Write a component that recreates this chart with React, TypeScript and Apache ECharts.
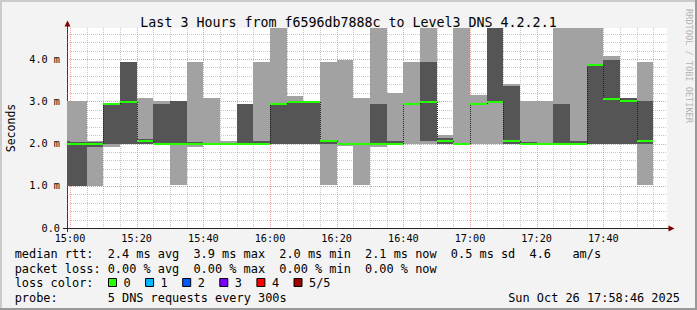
import React, { useEffect, useRef } from "react";
import * as echarts from "echarts";

// ---- data ----
const times = [
  "14:55", "15:00", "15:05", "15:10", "15:15", "15:20", "15:25", "15:30", "15:35", "15:40", "15:45", "15:50",
  "15:55", "16:00", "16:05", "16:10", "16:15", "16:20", "16:25", "16:30", "16:35", "16:40", "16:45", "16:50",
  "16:55", "17:00", "17:05", "17:10", "17:15", "17:20", "17:25", "17:30", "17:35", "17:40", "17:45", "17:50",
];
// sorted ping round-trip times (ms) per 5-minute step
const ping1 = [1.0, 1.0, 1.0, 1.91, 2.0, 2.0, 2.0, 1.02, 1.92, 2.0, 2.0, 2.0, 2.0, 2.0, 2.0, 2.0, 1.02, 1.93, 1.02, 1.92, 2.0, 2.0, 2.0, 2.0, 2.0, 2.0, 2.0, 2.0, 2.0, 2.0, 2.0, 2.0, 2.0, 2.0, 2.0, 1.02];
const ping2 = [1.0, 1.0, 1.92, 1.98, 2.0, 2.0, 2.0, 1.98, 1.97, 2.0, 2.0, 2.0, 2.0, 2.0, 2.0, 2.0, 2.0, 1.98, 1.98, 1.97, 2.0, 2.93, 2.05, 2.0, 2.0, 2.93, 2.96, 2.0, 2.0, 2.0, 2.0, 2.0, 2.0, 2.0, 2.0, 2.0];
const ping3 = [2.0, 2.0, 2.0, 2.94, 2.99, 2.05, 2.0, 2.0, 2.0, 2.0, 2.0, 2.0, 2.0, 2.93, 2.99, 2.99, 2.07, 2.0, 2.0, 2.0, 2.0, 2.93, 2.99, 2.06, 2.0, 2.93, 2.99, 2.06, 2.0, 2.0, 2.0, 2.0, 3.87, 3.06, 3.0, 2.06];
const ping4 = [2.05, 2.04, 2.04, 2.95, 3.93, 2.1, 2.93, 3.0, 2.04, 2.01, 2.01, 2.93, 2.05, 2.94, 3.0, 3.0, 2.09, 2.01, 2.01, 2.93, 2.05, 2.94, 3.93, 2.13, 2.0, 2.95, 5.0, 3.35, 2.03, 2.0, 2.93, 2.05, 3.88, 3.98, 3.07, 3.0];
const ping5 = [3.0, 3.0, 2.06, 2.95, 3.93, 3.07, 3.0, 3.0, 3.93, 3.07, 2.05, 2.93, 3.93, 5.0, 3.12, 3.0, 3.93, 3.98, 3.07, 5.0, 3.2, 3.93, 5.0, 2.19, 5.0, 3.14, 5.0, 3.42, 3.0, 3.0, 5.0, 5.0, 5.0, 4.07, 3.07, 3.93];

const xTickLabels = ["15:00", "15:20", "15:40", "16:00", "16:20", "16:40", "17:00", "17:20", "17:40"];
const yTickValues = [0, 1, 2, 3, 4];

const rttLine = [["median rtt:", 0], ["2.4 ms avg", 13], ["3.9 ms max", 25], ["2.0 ms min", 37], ["2.1 ms now", 49], ["0.5 ms sd", 61], ["4.6", 72], ["am/s", 78]] as [string, number][];
const lossLine = [["packet loss:", 0], ["0.00 % avg", 13], ["0.00 % max", 25], ["0.00 % min", 37], ["0.00 % now", 49]] as [string, number][];
const probeLine = [["probe:", 0], ["5 DNS requests every 300s", 13]] as [string, number][];
const lossLabels = ["0", "1", "2", "3", "4", "5/5"];
const lossColors = ["#26ff00", "#00b8ff", "#0059ff", "#7e00ff", "#ff0000", "#a10000"];
const dateText = "Sun Oct 26 17:58:46 2025";
const titleText = "Last 3 Hours from f6596db7888c to Level3 DNS 4.2.2.1";

// ---- helpers ----
const toMin = (t: string) => {
  const [h, m] = t.split(":").map(Number);
  return h * 60 + m - 15 * 60;
};
const fmtMin = (v: number) => {
  const tot = Math.round(v) + 15 * 60;
  const h = Math.floor(tot / 60);
  const m = tot % 60;
  return `${h}:${m < 10 ? "0" : ""}${m}`;
};

const LIGHT = "#a2a2a2";
const DARK = "#555555";
const MONO = "DejaVu Sans Mono";
const X_MIN = -0.9;
const X_MAX = 179.1;
const Y_MAX = 4.734;

export default function App() {
  const ref = useRef<HTMLDivElement>(null);
  useEffect(() => {
    const chart = echarts.init(ref.current!, null, { renderer: "svg" });

    const smokeData = times.map((t, i) => {
      const s = toMin(t);
      return [s, s + 5, ping1[i], ping2[i], ping3[i], ping4[i], ping5[i], i > 0 ? ping3[i - 1] : ping3[i]];
    });

    const gridData: number[][] = [];
    for (let m = 0; m <= 175; m += 5) gridData.push([m, 0.5, m % 20 === 0 ? 1 : 0]);
    for (let k = 1; k <= 23; k++) {
      const v = k / 5;
      gridData.push([0, v, k % 5 === 0 ? 3 : 2]);
    }

    const smokeRender = (params: any, api: any) => {
      const x0 = Math.round(api.coord([api.value(0), 0])[0]);
      const x1 = Math.round(api.coord([api.value(1), 0])[0]);
      const p = [2, 3, 4, 5, 6].map((d) => api.value(d));
      const y = (v: number) => Math.round(api.coord([api.value(0), v])[1]);
      const children: any[] = [];
      const seg = (a: number, b: number, c: string) => {
        const ya = y(a);
        const yb = y(b);
        if (ya === yb) return;
        children.push({ type: "rect", shape: { x: x0, y: Math.min(ya, yb), width: x1 - x0, height: Math.abs(ya - yb) }, style: { fill: c } });
      };
      seg(p[0], p[1], LIGHT);
      seg(p[1], p[2], DARK);
      seg(p[2], p[3], DARK);
      seg(p[3], p[4], LIGHT);
      return { type: "group", children };
    };

    const medianRender = (params: any, api: any) => {
      const x0 = Math.round(api.coord([api.value(0), 0])[0]);
      const x1 = Math.round(api.coord([api.value(1), 0])[0]);
      const ym = Math.round(api.coord([api.value(0), api.value(4)])[1]);
      const yp = Math.round(api.coord([api.value(0), api.value(7)])[1]);
      const children: any[] = [];
      if (yp !== ym) {
        children.push({ type: "line", shape: { x1: x0 + 0.5, y1: yp, x2: x0 + 0.5, y2: ym }, style: { stroke: "#202020", lineWidth: 1, lineDash: [1, 1] } });
      }
      children.push({ type: "rect", shape: { x: x0, y: ym - 1, width: x1 - x0, height: 2 }, style: { fill: lossColors[0] } });
      return { type: "group", children };
    };

    const gridRender = (params: any, api: any) => {
      const cs = params.coordSys;
      const kind = api.value(2);
      const major = kind === 1 || kind === 3;
      const style = { stroke: major ? "rgba(240,32,32,0.45)" : "rgba(143,143,143,0.5)", lineWidth: 1, lineDash: [1, 1] };
      if (kind < 2) {
        const px = Math.round(api.coord([api.value(0), 0])[0]) + 0.5;
        return { type: "line", shape: { x1: px, y1: cs.y, x2: px, y2: cs.y + cs.height }, style };
      }
      const py = Math.round(api.coord([0, api.value(1)])[1]) + 0.5;
      return { type: "line", shape: { x1: cs.x, y1: py, x2: cs.x + cs.width, y2: py }, style };
    };

    const CW = 7.15;
    const LX = 14.7;
    const textEl = (text: string, x: number, y: number, extra: any = {}) => ({
      type: "text",
      x,
      y,
      style: { text, fill: "#000", font: `11.9px '${MONO}'`, verticalAlign: "middle", align: "left", ...extra },
    });
    const graphics: any[] = [];
    rttLine.forEach(([t, c]) => graphics.push(textEl(t, LX + c * CW, 254)));
    lossLine.forEach(([t, c]) => graphics.push(textEl(t, LX + c * CW, 268.5)));
    graphics.push(textEl("loss color:", LX, 283));
    lossLabels.forEach((lab, i) => {
      const sx = 108 + i * 37.1;
      graphics.push({ type: "rect", shape: { x: sx + 0.5, y: 278.5, width: 8, height: 8 }, style: { fill: lossColors[i], stroke: "#000", lineWidth: 1 } });
      graphics.push(textEl(lab, sx + 15.5, 283));
    });
    probeLine.forEach(([t, c]) => graphics.push(textEl(t, LX + c * CW, 297.5)));
    graphics.push(textEl(dateText, 680, 297.5, { align: "right" }));
    graphics.push({
      type: "text",
      x: 689,
      y: 66,
      rotation: -Math.PI / 2,
      style: { text: "RRDTOOL / TOBI OETIKER", fill: "#b4b4b4", font: `8.6px '${MONO}'`, align: "center", verticalAlign: "middle" },
    });
    // frame
    graphics.push({ type: "line", shape: { x1: 0, y1: 1, x2: 697, y2: 1 }, style: { stroke: "#cbcbcb", lineWidth: 2 } });
    graphics.push({ type: "line", shape: { x1: 1, y1: 0, x2: 1, y2: 310 }, style: { stroke: "#cbcbcb", lineWidth: 2 } });
    graphics.push({ type: "line", shape: { x1: 0, y1: 309, x2: 697, y2: 309 }, style: { stroke: "#999999", lineWidth: 2 } });
    graphics.push({ type: "line", shape: { x1: 696, y1: 0, x2: 696, y2: 310 }, style: { stroke: "#999999", lineWidth: 2 } });
    // axis lines and arrows
    graphics.push({ type: "line", shape: { x1: 67.5, y1: 22, x2: 67.5, y2: 232 }, style: { stroke: "#3a3a3a", lineWidth: 1 } });
    graphics.push({ type: "line", shape: { x1: 63, y1: 228.5, x2: 670, y2: 228.5 }, style: { stroke: "#222", lineWidth: 1 } });
    graphics.push({ type: "polygon", shape: { points: [[64.5, 26.5], [70.5, 26.5], [67.5, 20.5]] }, style: { fill: "#7f0000" } });
    graphics.push({ type: "polygon", shape: { points: [[668.5, 225.5], [668.5, 231.5], [674.5, 228.5]] }, style: { fill: "#7f0000" } });

    chart.setOption({
      animation: false,
      backgroundColor: "#f3f3f3",
      title: {
        text: titleText,
        left: "center",
        top: 11,
        textStyle: { fontFamily: MONO, fontSize: 13.3, fontWeight: "normal", color: "#000" },
      },
      grid: {
        left: 67,
        right: 30,
        top: 28,
        bottom: 82,
        containLabel: false,
        outerBoundsMode: "none",
        show: true,
        backgroundColor: "#ffffff",
        borderWidth: 0,
      },
      xAxis: {
        type: "value",
        min: X_MIN,
        max: X_MAX,
        axisLine: { show: false },
        axisTick: { show: false },
        splitLine: { show: false },
        axisLabel: {
          customValues: xTickLabels.map(toMin),
          formatter: (v: number) => fmtMin(v),
          fontFamily: MONO,
          fontSize: 10.2,
          color: "#000",
          margin: 5,
        },
      },
      yAxis: {
        type: "value",
        min: 0,
        max: Y_MAX,
        name: "Seconds",
        nameLocation: "middle",
        nameRotate: 90,
        nameGap: 50,
        nameTextStyle: { fontFamily: MONO, fontSize: 11.5, color: "#000" },
        axisLine: { show: false },
        axisTick: { show: false },
        splitLine: { show: false },
        axisLabel: {
          customValues: yTickValues,
          formatter: (v: number) => (v === 0 ? "0.0" : `${v.toFixed(1)} m`),
          fontFamily: MONO,
          fontSize: 10.2,
          color: "#000",
          margin: 7,
        },
      },
      series: [
        { type: "custom", renderItem: gridRender, data: gridData, clip: true, z: 1, silent: true },
        { type: "custom", renderItem: smokeRender, data: smokeData, clip: true, z: 2, silent: true },
        { type: "custom", renderItem: medianRender, data: smokeData, clip: true, z: 4, silent: true },
      ],
      graphic: graphics,
    });
    return () => chart.dispose();
  }, []);
  return <div ref={ref} style={{ position: "fixed", left: 0, top: 0, width: 697, height: 310 }} />;
}
